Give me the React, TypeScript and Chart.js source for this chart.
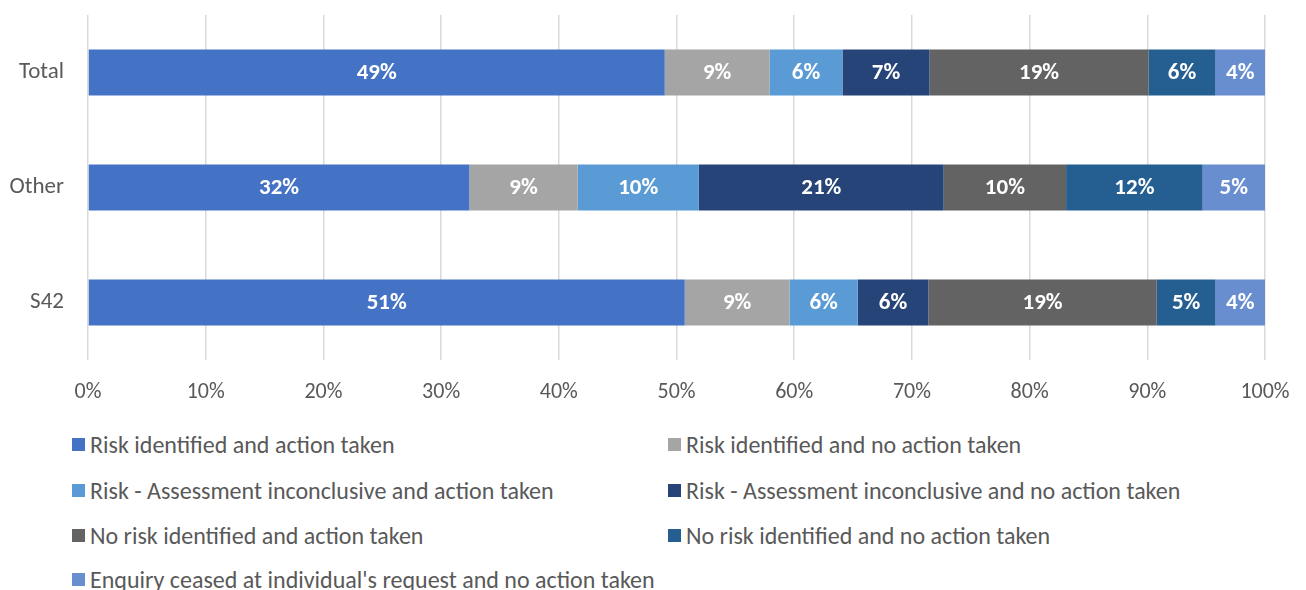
import React, { useEffect, useRef } from "react";
import { Chart, registerables } from "chart.js";

Chart.register(...registerables);

const categories = ["Total", "Other", "S42"];
const seriesNames = [
  "Risk identified and action taken",
  "Risk identified and no action taken",
  "Risk - Assessment inconclusive and action taken",
  "Risk - Assessment inconclusive and no action taken",
  "No risk identified and action taken",
  "No risk identified and no action taken",
  "Enquiry ceased at individual's request and no action taken",
];
const seriesColors = ["#4472C4", "#A5A5A5", "#5B9BD5", "#264478", "#636363", "#255E91", "#698ED0"];
const riskAction = [49.0, 32.4, 50.7];
const riskNoAction = [8.9, 9.2, 8.9];
const inconclusiveAction = [6.2, 10.3, 5.8];
const inconclusiveNoAction = [7.4, 20.8, 6.0];
const noRiskAction = [18.6, 10.4, 19.4];
const noRiskNoAction = [5.7, 11.6, 5.0];
const enquiryCeased = [4.2, 5.3, 4.2];
const seriesValues = [riskAction, riskNoAction, inconclusiveAction, inconclusiveNoAction, noRiskAction, noRiskNoAction, enquiryCeased];
const xTicks = [0, 10, 20, 30, 40, 50, 60, 70, 80, 90, 100];

const FONT = "Carlito, Calibri, Lato, 'Open Sans', sans-serif";
const TEXT = "#595959";

const labelPlugin = {
  id: "barLabels",
  afterDatasetsDraw(chart: any) {
    const ctx = chart.ctx;
    ctx.save();
    ctx.fillStyle = "#FFFFFF";
    ctx.font = `bold 23px ${FONT}`;
    ctx.textAlign = "center";
    ctx.textBaseline = "middle";
    chart.data.datasets.forEach((ds: any, di: number) => {
      const meta = chart.getDatasetMeta(di);
      meta.data.forEach((el: any, i: number) => {
        const v = ds.data[i];
        const cx = (el.x + el.base) / 2;
        ctx.fillText(Math.round(v) + "%", cx, el.y + 1);
      });
    });
    ctx.restore();
  },
};

export default function App() {
  const ref = useRef<HTMLCanvasElement>(null);
  useEffect(() => {
    document.body.style.margin = "0";
    const chart = new Chart(ref.current!, {
      type: "bar",
      data: {
        labels: categories,
        datasets: seriesValues.map((vals, i) => ({
          label: seriesNames[i],
          data: vals,
          backgroundColor: seriesColors[i],
          borderWidth: 0,
          barPercentage: 0.4,
          categoryPercentage: 1,
        })),
      },
      options: {
        indexAxis: "y",
        animation: false,
        responsive: false,
        maintainAspectRatio: false,
        layout: { padding: { top: 15, right: 41, left: 0, bottom: 0 } },
        plugins: { legend: { display: false }, tooltip: { enabled: false } },
        scales: {
          x: {
            stacked: true,
            min: 0,
            max: 100,
            afterBuildTicks: (s: any) => {
              s.ticks = xTicks.map((v) => ({ value: v }));
            },
            afterFit: (s: any) => {
              s.height = 50;
              s.paddingLeft = 0;
              s.paddingRight = 0;
            },
            grid: { color: "#D9D9D9", lineWidth: 1.5, drawTicks: false },
            border: { display: false },
            ticks: {
              padding: 19,
              color: TEXT,
              font: { family: FONT, size: 22 },
              callback: (v: any) => v + "%",
            },
          },
          y: {
            stacked: true,
            afterFit: (s: any) => {
              s.width = 88;
              s.paddingTop = 0;
              s.paddingBottom = 0;
            },
            grid: { display: false, drawTicks: false },
            border: { display: false },
            ticks: {
              padding: 24,
              color: TEXT,
              font: { family: FONT, size: 23 },
            },
          },
        },
      },
      plugins: [labelPlugin],
    } as any);
    return () => chart.destroy();
  }, []);

  const legendPos = [
    [72, 444],
    [668, 444],
    [72, 490],
    [668, 490],
    [72, 535],
    [668, 535],
    [72, 579],
  ];

  return (
    <div style={{ position: "relative", width: 1306, height: 590, background: "#fff", overflow: "hidden" }}>
      <canvas ref={ref} width={1306} height={410} style={{ display: "block", width: 1306, height: 410 }} />
      {seriesNames.map((name, i) => (
        <div
          key={name}
          style={{
            position: "absolute",
            left: legendPos[i][0],
            top: legendPos[i][1] - 14,
            height: 28,
            display: "flex",
            alignItems: "center",
            whiteSpace: "nowrap",
            fontFamily: FONT,
            fontSize: 24,
            color: TEXT,
          }}
        >
          <span style={{ display: "inline-block", width: 13, height: 13, background: seriesColors[i], marginRight: 5 }} />
          <span>{name}</span>
        </div>
      ))}
    </div>
  );
}
